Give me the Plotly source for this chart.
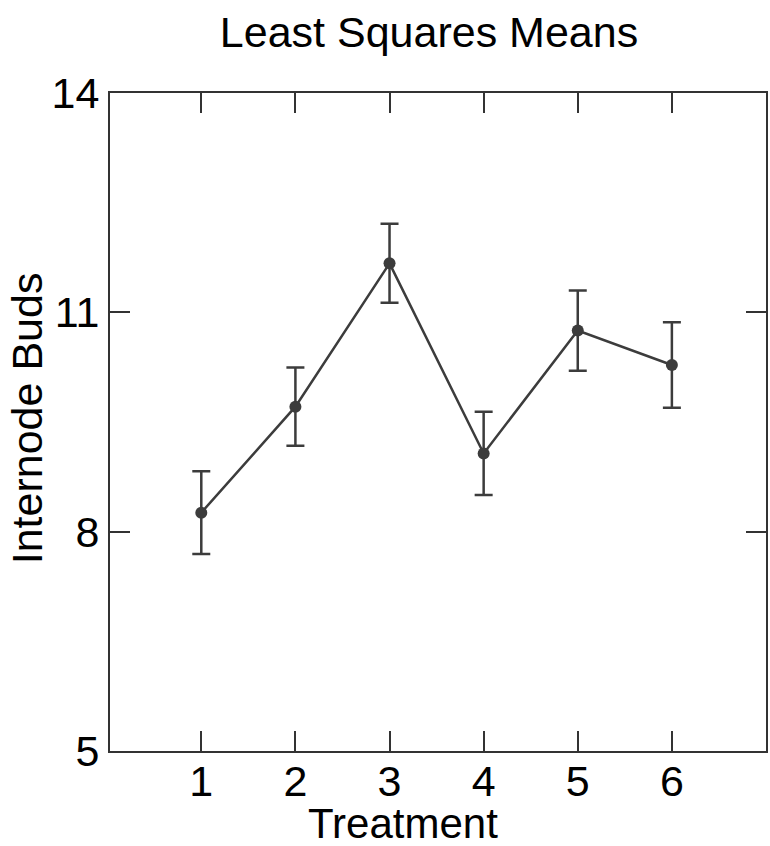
import plotly.graph_objects as go

treatments = [1, 2, 3, 4, 5, 6]
means = [8.26, 9.71, 11.67, 9.07, 10.75, 10.28]
errors = [0.565, 0.535, 0.54, 0.57, 0.55, 0.585]
x_ticks = [1, 2, 3, 4, 5, 6]
y_ticks = [5, 8, 11, 14]

FONT = "Liberation Sans, Arial, sans-serif"
LINE = "#3c3c3c"
AX = "#333333"

W, H = 770, 846
L, R, T, B = 110, 2, 93, 95
PW, PH = W - L - R, H - T - B

fig = go.Figure(
    go.Scatter(
        x=treatments,
        y=means,
        mode="lines+markers",
        line=dict(color=LINE, width=2.5),
        marker=dict(color=LINE, size=12),
        error_y=dict(type="data", array=errors, visible=True,
                     color=LINE, thickness=2.5, width=9),
        showlegend=False,
        hoverinfo="skip",
    )
)

axis_common = dict(
    showline=True, linewidth=2, linecolor=AX, mirror="allticks",
    ticks="inside", ticklen=20, tickwidth=2, tickcolor=AX,
    showgrid=False, zeroline=False,
    tickfont=dict(family=FONT, size=43, color="black"),
)

title_font = dict(family=FONT, size=43, color="black")

fig.update_layout(
    width=W, height=H,
    margin=dict(l=L, r=R, t=T, b=B),
    paper_bgcolor="white", plot_bgcolor="white",
    hovermode=False,
    title=dict(text="Least Squares Means", x=429 / W, xanchor="center",
               y=1 - 32 / H, yanchor="middle", xref="container", yref="container",
               font=title_font),
    xaxis=dict(range=[0.03, 7.0], tickvals=x_ticks, ticktext=[str(t) for t in x_ticks],
               ticklabelstandoff=-9, **axis_common),
    yaxis=dict(range=[5, 14], tickvals=y_ticks, ticktext=[str(t) for t in y_ticks],
               **axis_common),
    annotations=[
        dict(text="Treatment", xref="paper", yref="paper",
             x=(404 - L) / PW, y=0, yshift=-72, xanchor="center", yanchor="middle",
             showarrow=False, font=dict(family=FONT, size=42, color="black")),
        dict(text="Internode Buds", xref="paper", yref="paper",
             x=(27 - L) / PW, y=(T + PH - 418) / PH, textangle=-90,
             xanchor="center", yanchor="middle", showarrow=False, font=title_font),
    ],
)

# remove the browser's default 8px body margin so the figure sits at the page origin
fig.write_html("out.html", config={"displayModeBar": False},
               post_script="document.body.style.margin='0';")
